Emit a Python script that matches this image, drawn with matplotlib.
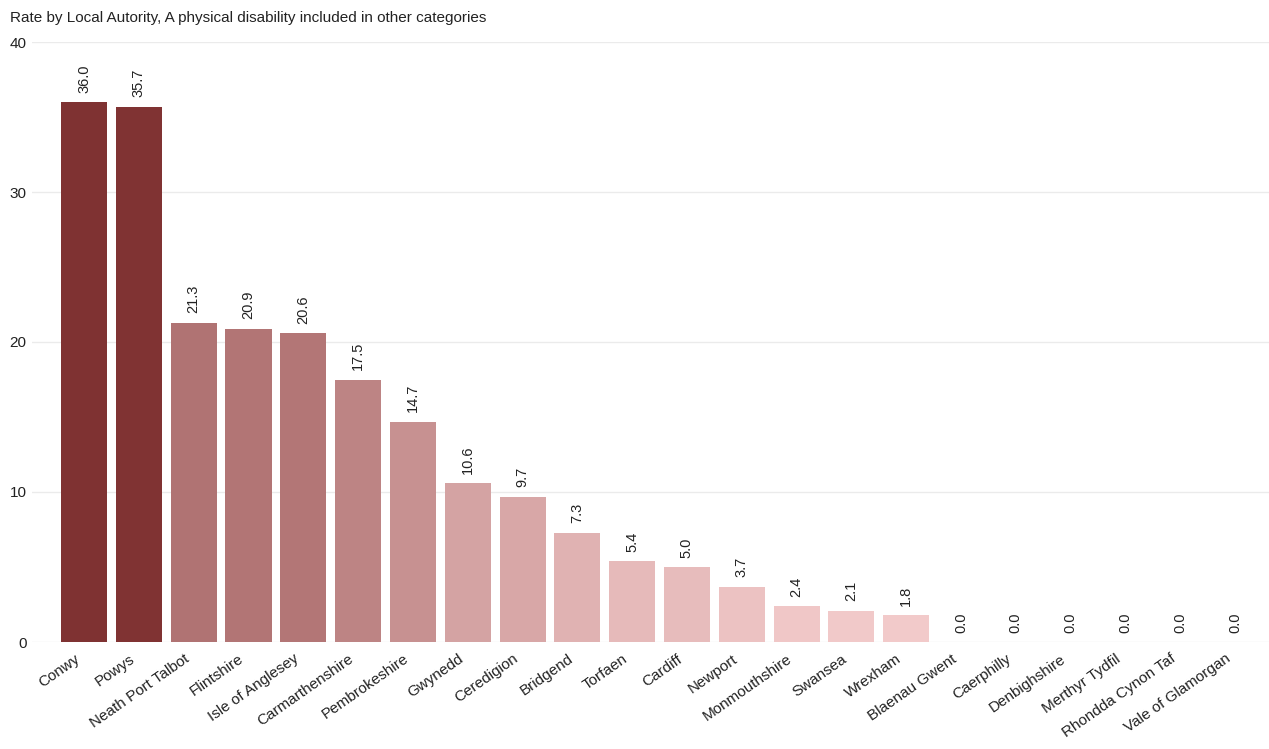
import matplotlib.pyplot as plt
from matplotlib.colors import LinearSegmentedColormap, Normalize
from matplotlib.transforms import ScaledTranslation

plt.rcParams['font.family'] = ['Liberation Sans', 'DejaVu Sans']

authorities = ['Conwy', 'Powys', 'Neath Port Talbot', 'Flintshire', 'Isle of Anglesey',
               'Carmarthenshire', 'Pembrokeshire', 'Gwynedd', 'Ceredigion', 'Bridgend',
               'Torfaen', 'Cardiff', 'Newport', 'Monmouthshire', 'Swansea', 'Wrexham',
               'Blaenau Gwent', 'Caerphilly', 'Denbighshire', 'Merthyr Tydfil',
               'Rhondda Cynon Taf', 'Vale of Glamorgan']
rates = [36.0, 35.7, 21.3, 20.9, 20.6, 17.5, 14.7, 10.6, 9.7, 7.3,
         5.4, 5.0, 3.7, 2.4, 2.1, 1.8, 0.0, 0.0, 0.0, 0.0, 0.0, 0.0]

cmap = LinearSegmentedColormap.from_list('reds', ['#f8d2d2', '#7f3232'])
norm = Normalize(vmin=0, vmax=36)
colors = [cmap(norm(v)) for v in rates]

fig = plt.figure(figsize=(12.69, 7.49), dpi=100)
ax = fig.add_axes([32 / 1269, 1 - 642 / 749, 1 - 32 / 1269, 600 / 749])

x = range(len(authorities))
ax.bar(x, rates, width=0.84, color=colors, zorder=2)

for xi, v in zip(x, rates):
    ax.annotate(f'{v:.1f}', (xi, v), xytext=(0, 6.5), textcoords='offset points',
                rotation=90, ha='center', va='bottom', fontsize=10.5, color='#222222')

ax.set_ylim(0, 40)
ax.set_xlim(-0.95, 21.62)
ax.set_yticks([0, 10, 20, 30, 40])
ax.yaxis.grid(True, color='#ebebeb', linewidth=1, zorder=0)
ax.set_axisbelow(True)
for s in ax.spines.values():
    s.set_visible(False)
ax.tick_params(axis='both', length=0, labelsize=11, colors='#222222')
ax.tick_params(axis='y', pad=4)
ax.set_xticks(list(x))
ax.set_xticklabels(authorities, rotation=35, ha='right', rotation_mode='anchor')
ax.tick_params(axis='x', pad=7)
shift = ScaledTranslation(-10 / 100, 0, fig.dpi_scale_trans)
for lbl in ax.get_xticklabels():
    lbl.set_transform(lbl.get_transform() + shift)

fig.text(10 / 1269, 1 - 18 / 749, 'Rate by Local Autority, A physical disability included in other categories',
         ha='left', va='center', fontsize=11, color='#222222')

fig.savefig('out.png', dpi=100)
